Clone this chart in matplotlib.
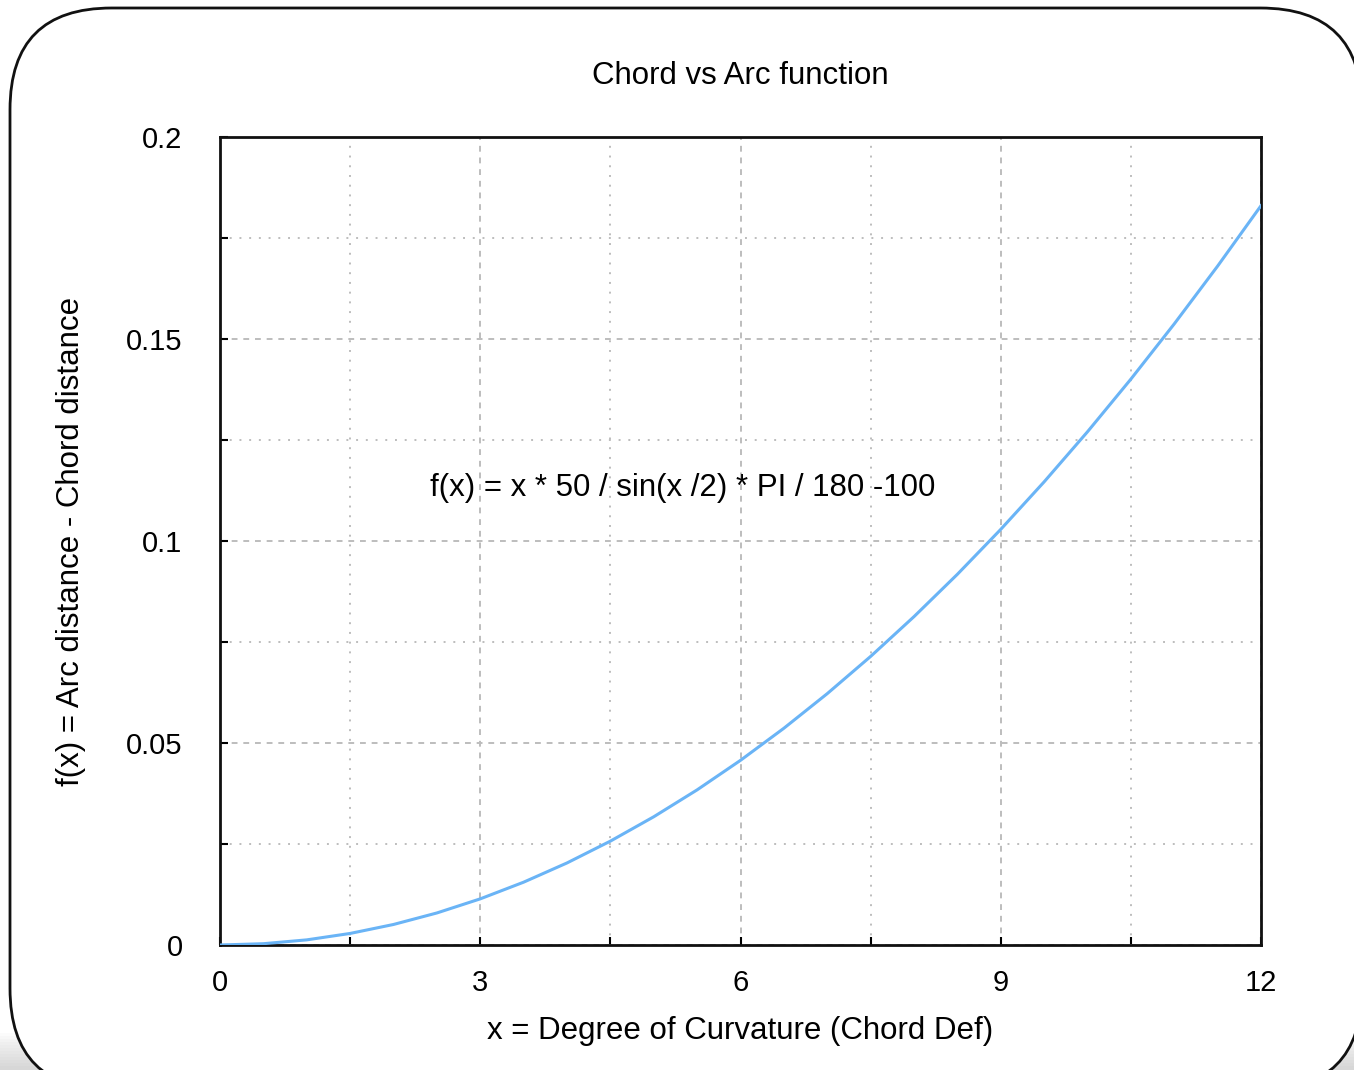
import matplotlib.pyplot as plt
from matplotlib.patches import FancyBboxPatch, Rectangle
from matplotlib.ticker import MultipleLocator

plt.rcParams['font.family'] = ['Liberation Sans', 'DejaVu Sans']

# values, every 0.5 degree
x_deg = [0, 0.5, 1, 1.5, 2, 2.5, 3, 3.5, 4, 4.5, 5, 5.5, 6,
         6.5, 7, 7.5, 8, 8.5, 9, 9.5, 10, 10.5, 11, 11.5, 12]
f_val = [0, 0.00032, 0.00127, 0.00286, 0.00508, 0.00793, 0.01142, 0.01555,
         0.02031, 0.02571, 0.03174, 0.03840, 0.04571, 0.05365, 0.06222,
         0.07143, 0.08128, 0.09176, 0.10288, 0.11464, 0.12704, 0.14007,
         0.15374, 0.16805, 0.18300]

x_ticks = [0, 3, 6, 9, 12]
y_ticks = [0, 0.05, 0.1, 0.15, 0.2]
y_tick_labels = ['0', '0.05', '0.1', '0.15', '0.2']

fig = plt.figure(figsize=(13.54, 10.7), dpi=100)
fig.patch.set_facecolor('white')

# soft shadow along the bottom
for i in range(12):
    fig.patches.append(Rectangle((0, 0), 1, 0.035 - i * 0.0028, transform=fig.transFigure,
                                 facecolor='#9a9a9a', alpha=0.035, edgecolor='none', zorder=0))

# rounded frame
frame = FancyBboxPatch((10 / 1354, -20 / 1070), 1352 / 1354, 1082 / 1070,
                       boxstyle='round,pad=0,rounding_size=0.075',
                       transform=fig.transFigure, facecolor='white',
                       edgecolor='#111111', linewidth=2, zorder=1,
                       mutation_aspect=1354 / 1070)
fig.patches.append(frame)

ax = fig.add_axes([220 / 1354, 1 - 945 / 1070, 1041 / 1354, 808 / 1070])
ax.set_zorder(2)
ax.plot(x_deg, f_val, color='#6ab4f6', linewidth=2.2, zorder=3)

ax.set_xlim(0, 12)
ax.set_ylim(0, 0.2)
ax.set_xticks(x_ticks)
ax.set_yticks(y_ticks)
ax.set_yticklabels(y_tick_labels)
ax.xaxis.set_minor_locator(MultipleLocator(1.5))
ax.yaxis.set_minor_locator(MultipleLocator(0.025))

ax.grid(which='major', color='#bdbdbd', linestyle=(0, (3, 3)), linewidth=1.4)
ax.grid(which='minor', color='#bdbdbd', linestyle=(0, (1, 4)), linewidth=1.4)

ax.tick_params(which='both', direction='in', top=False, right=False,
               length=6, width=1.5, labelsize=21, color='black')
ax.tick_params(axis='x', pad=17)
ax.tick_params(axis='y', pad=27)
for s in ax.spines.values():
    s.set_linewidth(2)
    s.set_color('#111111')

ax.set_title('Chord vs Arc function', fontsize=22.5, pad=38)
ax.set_xlabel('x = Degree of Curvature (Chord Def)', fontsize=22.5, labelpad=14)
ax.set_ylabel('f(x) = Arc distance - Chord distance', fontsize=22.5, labelpad=29)

ax.text(2.42, 0.1131, 'f(x) = x * 50 / sin(x /2) * PI / 180 -100',
        fontsize=22.5, ha='left', va='center', zorder=4)

fig.savefig('out.png', dpi=100)
